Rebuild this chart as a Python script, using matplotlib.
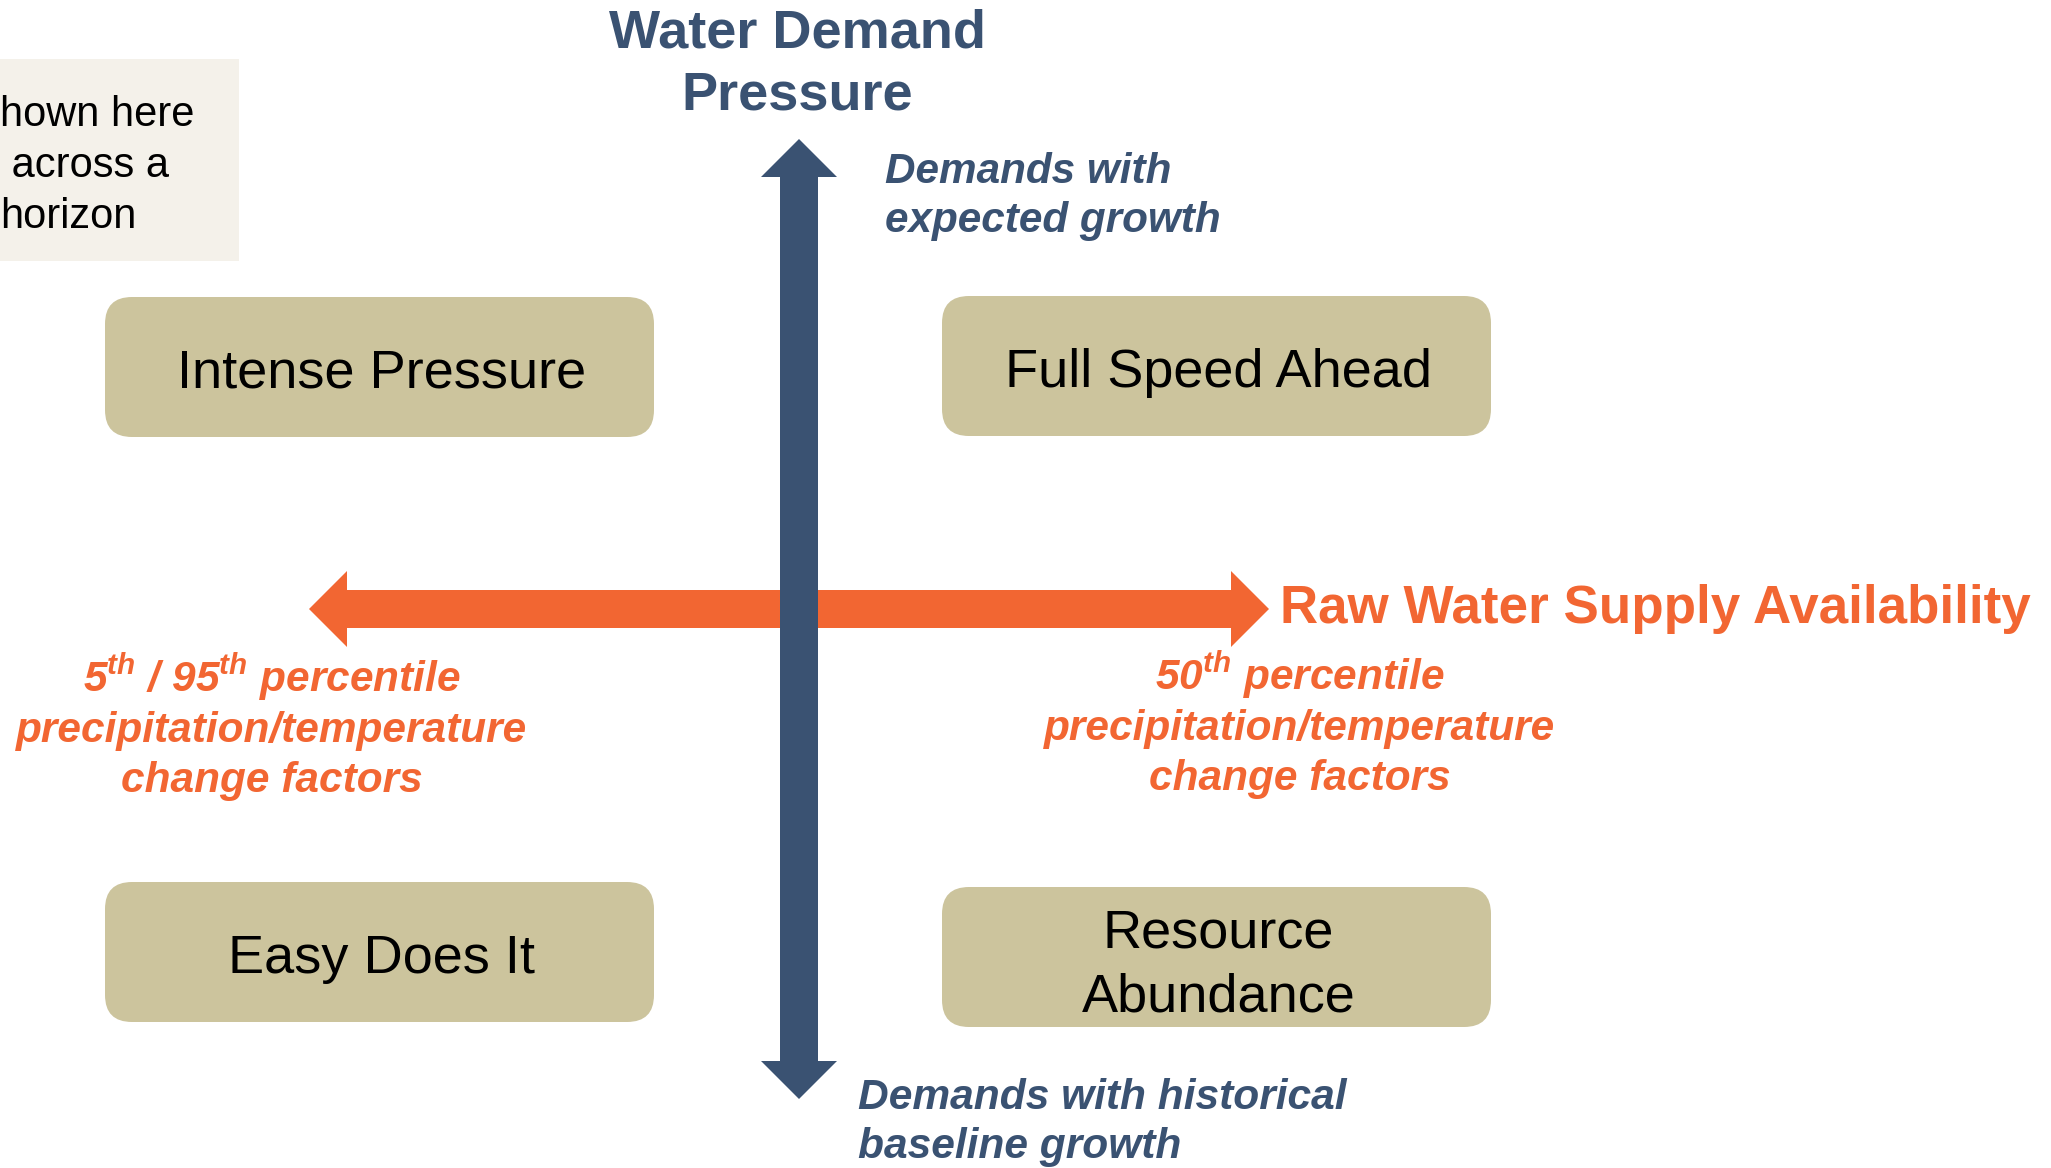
import matplotlib.pyplot as plt
from matplotlib.patches import Polygon, FancyBboxPatch, Rectangle

plt.rcParams['font.family'] = ['Liberation Sans', 'DejaVu Sans']
plt.rcParams['mathtext.fontset'] = 'custom'
plt.rcParams['mathtext.it'] = 'Liberation Sans:italic:bold'
plt.rcParams['mathtext.rm'] = 'Liberation Sans:italic:bold'

blue = '#3a5272'
orange = '#f26632'
tan = '#ccc49d'
beige = '#f4f1ea'

# quadrant boxes
box_labels = ['Intense Pressure', 'Full Speed Ahead', 'Easy Does It', 'Resource\nAbundance']
box_left = [105, 942, 105, 942]
box_top = [297, 296, 882, 887]
box_w = 549
box_h = 140

# axis texts
demand_title = ['Water Demand', 'Pressure']
demand_high = ['Demands with', 'expected growth']
demand_low = ['Demands with historical', 'baseline growth']
supply_title = 'Raw Water Supply Availability'
supply_low = [r'5$^{th}$ / 95$^{th}$ percentile', 'precipitation/temperature', 'change factors']
supply_mid = [r'50$^{th}$ percentile', 'precipitation/temperature', 'change factors']
side_note = ['hown here', ' across a', 'horizon']

W, H = 2051, 1168
fig = plt.figure(figsize=(W / 100, H / 100), dpi=100)
ax = fig.add_axes([0, 0, 1, 1])
ax.set_xlim(0, W)
ax.set_ylim(H, 0)
ax.axis('off')


def double_arrow(x0, x1, y, half_shaft, half_head, head_len, vertical=False):
    pts = [(x0, y), (x0 + head_len, y - half_head), (x0 + head_len, y - half_shaft),
           (x1 - head_len, y - half_shaft), (x1 - head_len, y - half_head), (x1, y),
           (x1 - head_len, y + half_head), (x1 - head_len, y + half_shaft),
           (x0 + head_len, y + half_shaft), (x0 + head_len, y + half_head)]
    if vertical:
        pts = [(b, a) for a, b in pts]
    return pts


# side note box (cut off at the left edge)
ax.add_patch(Rectangle((0, 59), 239, 202, color=beige, lw=0))
for i, line in enumerate(side_note):
    ax.text(0, 126 + 51 * i, line, fontsize=30, color='black', va='baseline', ha='left')

# boxes
for lab, x, y in zip(box_labels, box_left, box_top):
    ax.add_patch(FancyBboxPatch((x, y), box_w, box_h,
                                boxstyle='round,pad=0,rounding_size=27',
                                fc=tan, ec='none'))
    lines = lab.split('\n')
    if len(lines) == 1:
        ax.text(x + box_w / 2 + 2, y + 91, lines[0], fontsize=39, ha='center', va='baseline')
    else:
        ax.text(x + box_w / 2 + 2, y + 60, lines[0], fontsize=39, ha='center', va='baseline')
        ax.text(x + box_w / 2 + 2, y + 125, lines[1], fontsize=39, ha='center', va='baseline')

# arrows
ax.add_patch(Polygon(double_arrow(309, 1269, 609, 19, 38, 38), closed=True, fc=orange, ec='none'))
ax.add_patch(Polygon(double_arrow(139, 1099, 799, 19, 38, 38, vertical=True), closed=True, fc=blue, ec='none'))

# vertical axis texts
for i, line in enumerate(demand_title):
    ax.text(797, 47 + 63 * i, line, fontsize=39, fontweight='bold', color=blue,
            ha='center', va='baseline')
for i, line in enumerate(demand_high):
    ax.text(885, 183 + 49 * i, line, fontsize=30.4, fontweight='bold', style='italic',
            color=blue, ha='left', va='baseline')
for i, line in enumerate(demand_low):
    ax.text(858, 1109 + 49 * i, line, fontsize=30.6, fontweight='bold', style='italic',
            color=blue, ha='left', va='baseline')

# horizontal axis texts
ax.text(1280, 623, supply_title, fontsize=38.2, fontweight='bold', color=orange,
        ha='left', va='baseline')
for i, line in enumerate(supply_low):
    ax.text(272, 692 + 50 * i, line, fontsize=30.5, fontweight='bold', style='italic',
            color=orange, ha='center', va='baseline')
for i, line in enumerate(supply_mid):
    ax.text(1300, 690 + 50 * i, line, fontsize=30.5, fontweight='bold', style='italic',
            color=orange, ha='center', va='baseline')

fig.savefig('out.png', dpi=100)
